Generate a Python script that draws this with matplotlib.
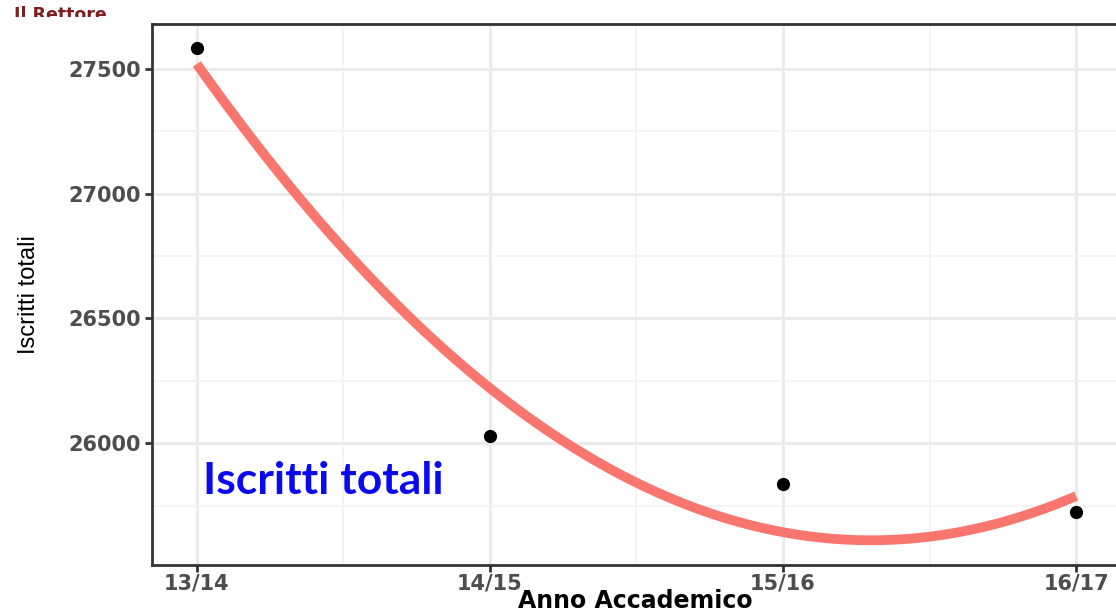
import numpy as np
import matplotlib
matplotlib.use("Agg")
import matplotlib.pyplot as plt
from matplotlib.ticker import MultipleLocator
from matplotlib.transforms import Bbox

categories = ["13/14", "14/15", "15/16", "16/17"]
iscritti = [27584, 26028, 25836, 25724]
y_ticks = [26000, 26500, 27000, 27500]

x = np.arange(len(categories))
coef = np.polyfit(x, iscritti, 2)
xs = np.linspace(0, len(categories) - 1, 300)
ys = np.polyval(coef, xs)

W, H = 1116, 614
fig = plt.figure(figsize=(W / 100, H / 100), dpi=100)
ax = fig.add_axes([152 / W, 1 - 565 / H, 1 - 152 / W, (565 - 24) / H])

ax.set_xlim(-0.153, 3.136)
ax.set_ylim(25512, 27680)

ax.xaxis.set_minor_locator(MultipleLocator(0.5))
ax.set_yticks(y_ticks)
ax.yaxis.set_minor_locator(MultipleLocator(250))
ax.set_xticks(x)
ax.set_xticklabels(categories)

ax.grid(which="major", color="#EBEBEB", linewidth=2.2, zorder=0)
ax.grid(which="minor", color="#F2F2F2", linewidth=1.2, zorder=0)
ax.set_axisbelow(True)

ax.plot(xs, ys, color="#F8766D", linewidth=7, solid_capstyle="butt", zorder=2)
ax.plot(x, iscritti, "o", color="black", markersize=8.5, zorder=3)

for s in ["left", "bottom", "top"]:
    ax.spines[s].set_color("#333333")
    ax.spines[s].set_linewidth(2)
ax.spines["right"].set_visible(False)

ax.tick_params(which="major", length=5, width=2, color="#333333",
               labelcolor="#4D4D4D", labelsize=15)
ax.tick_params(axis="x", pad=1)
ax.tick_params(axis="y", pad=3)
ax.tick_params(which="minor", length=0)
for lab in ax.get_xticklabels() + ax.get_yticklabels():
    lab.set_family("DejaVu Sans")
    lab.set_fontweight("bold")

ax.set_xlabel("Anno Accademico", family="DejaVu Sans", fontsize=17,
              fontweight="bold", color="black")
ax.xaxis.set_label_coords((635 - 152) / (W - 152), -(601 - 565) / (565 - 24),
                          transform=ax.transAxes)
ax.xaxis.label.set_va("center")
ax.set_ylabel("Iscritti totali", family="Liberation Sans", fontsize=17,
              color="black")
ax.yaxis.label.set_va("center")
ax.yaxis.set_label_coords(-(152 - 29) / (W - 152), 1 - (295 - 24) / (565 - 24))

ax.text(203, H - 494, "Iscritti totali", transform=None, fontsize=32,
        family="Lato", fontweight="bold", color="#0A0AF0")

t = fig.text(14 / W, 1 - 20 / H, "Il Rettore", fontsize=12.5, fontweight="bold",
             family="DejaVu Sans", color="#7B2020", va="baseline")
t.set_clip_box(Bbox.from_extents(0, H - 17, W, H))
t.set_clip_on(True)

fig.savefig("out.png", dpi=100)
